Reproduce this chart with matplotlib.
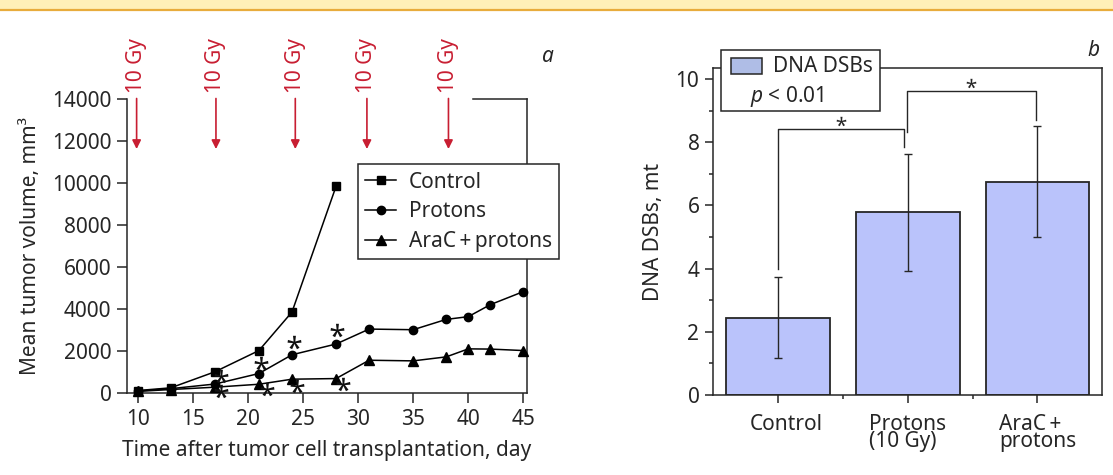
import numpy as np
import matplotlib
matplotlib.use('Agg')
import matplotlib.pyplot as plt
from matplotlib.patches import Rectangle
from matplotlib.lines import Line2D
from matplotlib.transforms import offset_copy

INK = '#262626'
RED = '#c81e32'
BAR = '#bac3fb'
LEG = '#afbde6'
FS = 15

plt.rcParams['font.family'] = ['Noto Sans', 'DejaVu Sans']
plt.rcParams.update({'text.color': INK, 'axes.labelcolor': INK,
                     'xtick.color': INK, 'ytick.color': INK,
                     'axes.edgecolor': INK, 'axes.linewidth': 1.1,
                     'mathtext.fontset': 'custom', 'mathtext.rm': 'Noto Sans',
                     'mathtext.it': 'Noto Sans:italic'})

# ---------------- data: panel a ----------------
days = [10, 13, 17, 21, 24, 28, 31, 35, 38, 40, 42, 45]
control_days = [10, 13, 17, 21, 24, 28]
control = [130, 260, 1020, 2030, 3860, 9830]
protons = [110, 220, 440, 940, 1830, 2340, 3050, 3020, 3510, 3640, 4210, 4830]
arac = [90, 180, 290, 430, 670, 700, 1570, 1540, 1730, 2110, 2100, 2030]
star_days = [17.6, 17.6, 21.2, 21.7, 24.2, 24.5, 28.1, 28.6]
star_vals = [840, 120, 1460, 190, 2420, 350, 2990, 430]
irr_days = [9.9, 17.1, 24.3, 30.8, 38.2]
irr_label = '10 Gy'

# ---------------- data: panel b ----------------
groups = ['Control', 'Protons\n(10 Gy)', 'AraC\u2009+\nprotons']
dsb = [2.45, 5.78, 6.75]
dsb_err = [1.27, 1.85, 1.75]
br_x0 = [1.0, 1.99]
br_x1 = [1.97, 2.99]
br_top = [8.42, 9.63]
br_lo_left = [3.98, 8.33]
br_lo_right = [7.84, 8.70]

W, H = 1113, 475
fig = plt.figure(figsize=(W / 100, H / 100), dpi=100)

# top banner strip
fig.patches.append(Rectangle((0, 1 - 9 / H), 1, 9 / H, transform=fig.transFigure,
                             facecolor='#fff0b8', edgecolor='none'))
fig.add_artist(Line2D([0, 1], [1 - 10 / H, 1 - 10 / H], transform=fig.transFigure,
                      color='#e8ac3c', lw=1.6))

# ---------------- panel a ----------------
ax = fig.add_axes([126.7 / W, 1 - 393.3 / H, 400 / W, 294.8 / H])
ax.set_xlim(9, 45.3)
ax.set_ylim(0, 14000)
ax.spines['top'].set_visible(False)
ax.plot([0.866, 1.0], [1, 1], transform=ax.transAxes, color=INK, lw=1.1, clip_on=False)
ax.set_xticks(range(10, 46, 5))
ax.set_yticks(range(0, 14001, 2000))
ax.tick_params(direction='out', length=7, width=1.1, labelsize=FS, pad=4)

ax.plot(control_days, control, '-s', color='k', ms=5.5, lw=1.1, label='Control', clip_on=False, zorder=4)
ax.plot(days, protons, '-o', color='k', ms=6, lw=1.1, label='Protons', clip_on=False, zorder=4)
ax.plot(days, arac, '-^', color='k', ms=6.5, lw=1.1, label='AraC\u2009+\u2009protons', clip_on=False, zorder=4)
ax.plot(star_days, star_vals, ls='none', marker='$*$', ms=10, color='#111111', mew=0,
        clip_on=False, zorder=5)

for d in irr_days:
    ax.annotate('', xy=(d, 11600), xytext=(d, 14000),
                arrowprops=dict(arrowstyle='-|>', color=RED, lw=1.2, mutation_scale=13,
                                shrinkA=0, shrinkB=0), annotation_clip=False)
    ax.annotate(irr_label, xy=(d, 14000), xytext=(0, 4), textcoords='offset points',
                rotation=90, ha='center', va='bottom', fontsize=FS, color=RED,
                annotation_clip=False)

leg = ax.legend(loc='upper left', bbox_to_anchor=(0.5775, 0.777), fontsize=FS,
                frameon=True, fancybox=False, framealpha=1, edgecolor=INK,
                handlelength=1.5, handletextpad=0.6, borderpad=0.35, labelspacing=0.42,
                borderaxespad=0)
leg.get_frame().set_linewidth(1.1)

ax.set_xlabel('Time after tumor cell transplantation, day', fontsize=FS)
ax.xaxis.set_label_coords(0.5, -0.16)
ax.set_ylabel('Mean tumor volume, mm³', fontsize=FS)
ax.yaxis.set_label_coords(-0.213, 0.5)
fig.text(548 / W, 1 - 57 / H, 'a', style='italic', fontsize=FS, ha='center', va='center')

# ---------------- panel b ----------------
bx = fig.add_axes([713.3 / W, 1 - 395 / H, 389 / W, 326.7 / H])
pos = np.arange(1, len(dsb) + 1)
bx.bar(pos, dsb, width=0.8, color=BAR, edgecolor=INK, lw=1.3, zorder=2)
bx.errorbar(pos, dsb, yerr=dsb_err, fmt='none', ecolor=INK, elinewidth=1.0,
            capsize=3, capthick=1.0, zorder=3)
bx.set_xlim(0.5, 3.5)
bx.set_ylim(0, 10.34)
bx.set_yticks(range(0, 11, 2))
bx.set_yticks(range(1, 10, 2), minor=True)
bx.set_xticks(pos)
bx.set_xticks(pos[:-1] + 0.5, minor=True)
bx.set_xticklabels([])
bx.tick_params(which='major', direction='out', length=6, width=1.1, labelsize=FS, pad=4)
bx.tick_params(which='minor', direction='out', length=3, width=1.1)
tr = offset_copy(bx.get_xaxis_transform(), fig=fig, x=0, y=-19, units='dots')
for i, g in enumerate(groups):
    dx = 0.06 if i == 0 else 0
    bx.text(pos[i] + dx, 0, g, transform=tr, ha='center', va='top', fontsize=FS,
            multialignment='left', linespacing=0.75)

for x0, x1, top, lo_l, lo_r in zip(br_x0, br_x1, br_top, br_lo_left, br_lo_right):
    bx.plot([x0, x0, x1, x1], [lo_l, top, top, lo_r], color=INK, lw=1.0, zorder=3)
    bx.plot([(x0 + x1) / 2], [top + 0.25], ls='none', marker='$*$', ms=7, color=INK, mew=0)

# legend box drawn by hand
bx.add_patch(Rectangle((0.0198, 0.869), 0.4087, 0.187, transform=bx.transAxes,
                       facecolor='white', edgecolor=INK, lw=1.1, clip_on=False, zorder=10))
bx.add_patch(Rectangle((0.0455, 0.9816), 0.0789, 0.0508, transform=bx.transAxes,
                       facecolor=LEG, edgecolor=INK, lw=1.1, clip_on=False, zorder=11))
bx.text(0.1527, 1.007, 'DNA DSBs', transform=bx.transAxes, fontsize=FS,
        ha='left', va='center', zorder=12)
bx.text(0.0943, 0.913, '$p$ < 0.01', transform=bx.transAxes, fontsize=FS,
        ha='left', va='center', zorder=12)

bx.set_ylabel('DNA DSBs, mt', fontsize=FS)
bx.yaxis.set_label_coords(-0.128, 0.5)
fig.text(1093 / W, 1 - 50 / H, 'b', style='italic', fontsize=FS, ha='center', va='center')

fig.savefig('out.png', dpi=100)
